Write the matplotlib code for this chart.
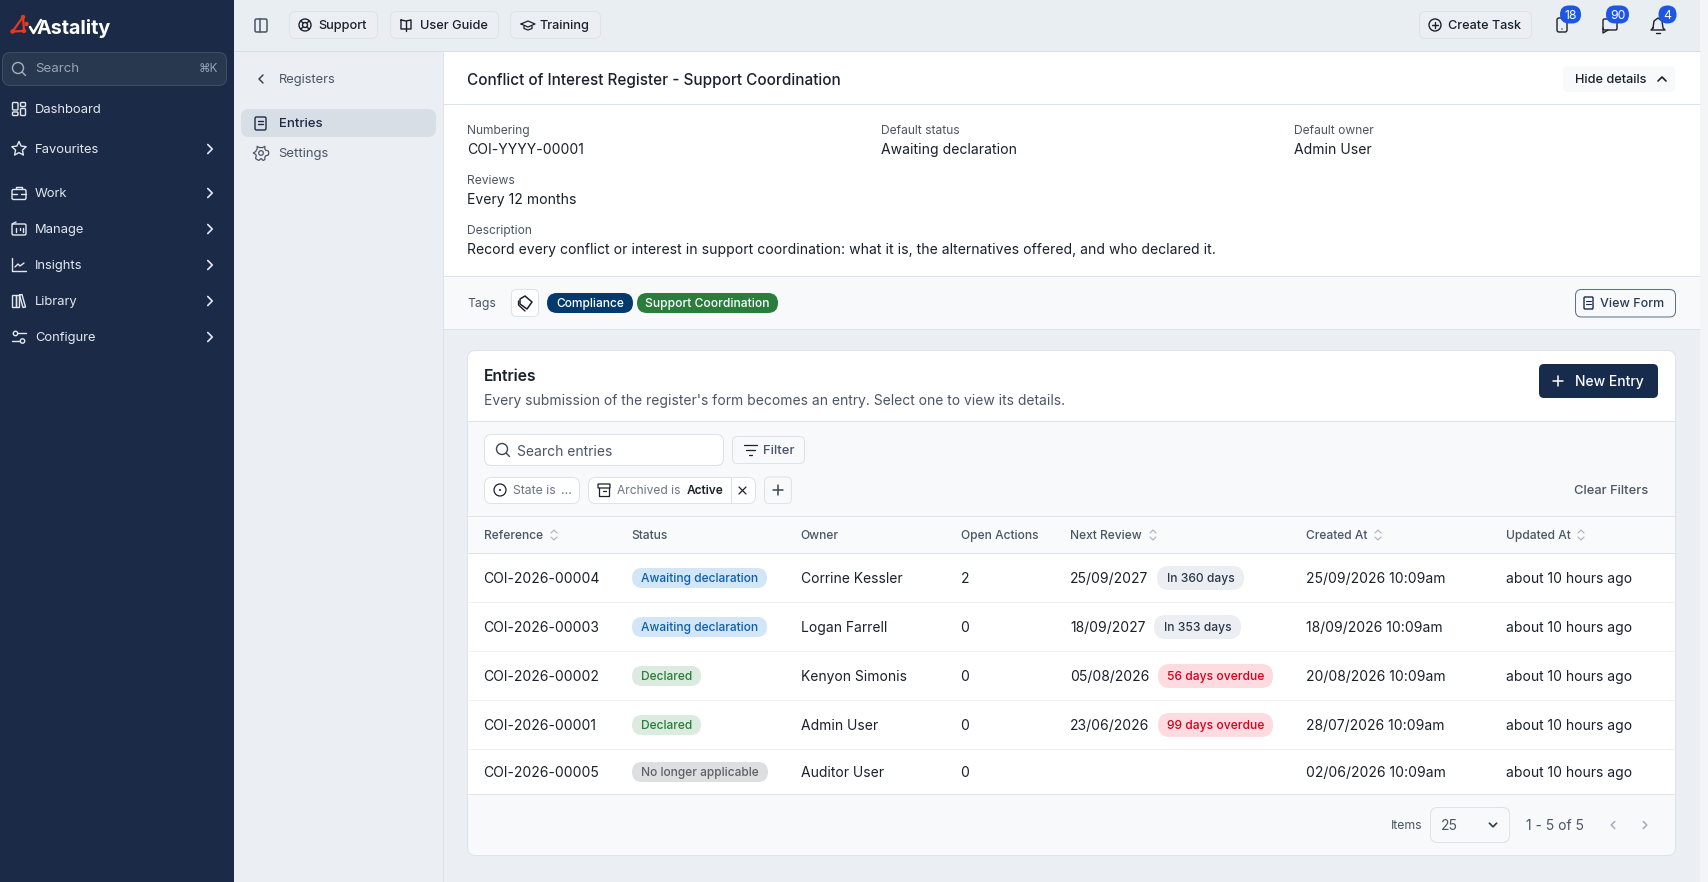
import numpy as np
import matplotlib
matplotlib.use("Agg")
import matplotlib.pyplot as plt
from matplotlib.patches import FancyBboxPatch, Circle, Rectangle, Polygon

plt.rcParams['font.family'] = ['Inter', 'DejaVu Sans']

# ---------- content ----------
NAV_ITEMS = ["Dashboard", "Favourites", "Work", "Manage", "Insights", "Library", "Configure"]
NAV_CHEVRON = [False, True, True, True, True, True, True]
TOP_BUTTONS = ["Support", "User Guide", "Training"]
NOTIFY_COUNTS = [18, 90, 4]
TAGS = ["Compliance", "Support Coordination"]
COLUMNS = ["Reference", "Status", "Owner", "Open Actions", "Next Review", "Created At", "Updated At"]
COLUMN_SORTABLE = [True, False, False, False, True, True, True]
REFERENCES = ["COI-2026-00004", "COI-2026-00003", "COI-2026-00002", "COI-2026-00001", "COI-2026-00005"]
STATUSES = ["Awaiting declaration", "Awaiting declaration", "Declared", "Declared", "No longer applicable"]
OWNERS = ["Corrine Kessler", "Logan Farrell", "Kenyon Simonis", "Admin User", "Auditor User"]
OPEN_ACTIONS = [2, 0, 0, 0, 0]
NEXT_REVIEW = ["25/09/2027", "18/09/2027", "05/08/2026", "23/06/2026", ""]
REVIEW_BADGES = ["In 360 days", "In 353 days", "56 days overdue", "99 days overdue", ""]
CREATED_AT = ["25/09/2026 10:09am", "18/09/2026 10:09am", "20/08/2026 10:09am",
              "28/07/2026 10:09am", "02/06/2026 10:09am"]
UPDATED_AT = ["about 10 hours ago"] * 5

# ---------- palette ----------
NAVY = "#1b2b47"; PAGE = "#ebeff4"; WHITE = "#ffffff"; SOFT = "#f7f9fb"
LINE = "#dde3ea"; INK = "#1a202c"; MUTED = "#4b5665"
STATUS_STYLE = {"Awaiting declaration": ("#d3e6f7", "#0f5fa8"),
                "Declared": ("#dcebdf", "#2a7d3a"),
                "No longer applicable": ("#dedfe1", "#5d6166")}
PX = 0.72  # one pixel of stroke, in points

# ---------- canvas in pixels ----------
W, H = 1708, 882
fig = plt.figure(figsize=((W + 0.01) / 100, (H + 0.01) / 100), dpi=100, facecolor=PAGE)
ax = fig.add_axes([0, 0, 1, 1])
ax.set_xlim(0, W); ax.set_ylim(H, 0); ax.axis("off")


def box(x0, y0, x1, y1, r=0, fc="none", ec="none", lw=PX, z=1):
    if r:
        p = FancyBboxPatch((x0, y0), x1 - x0, y1 - y0, boxstyle=f"round,pad=0,rounding_size={r}",
                           fc=fc, ec=ec, lw=lw, zorder=z)
    else:
        p = Rectangle((x0, y0), x1 - x0, y1 - y0, fc=fc, ec=ec, lw=lw, zorder=z)
    ax.add_patch(p)


def txt(x, y, s, size=10, color=INK, weight="normal", ha="left"):
    ax.text(x, y - 0.2, s, fontsize=size, color=color, fontweight=weight, ha=ha,
            va="center_baseline", zorder=5)


def line(xs, ys, color=INK, lw=1.0, z=4):
    ax.plot(xs, ys, color=color, lw=lw, zorder=z, solid_capstyle="round", solid_joinstyle="round")


def rule(xs, ys, color, z=2):
    ax.plot(xs, ys, color=color, lw=PX, zorder=z, solid_capstyle="butt")


def ring(x, y, r, color=INK, lw=1.0, fc="none"):
    ax.add_patch(Circle((x, y), r, fc=fc, ec=color, lw=lw, zorder=4))


def chev(x, y, d, s=4, color=INK, lw=1.1):
    if d == "r":
        line([x - s / 2, x + s / 2, x - s / 2], [y - s, y, y + s], color, lw)
    elif d == "l":
        line([x + s / 2, x - s / 2, x + s / 2], [y - s, y, y + s], color, lw)
    elif d == "d":
        line([x - s, x, x + s], [y - s / 2, y + s / 2, y - s / 2], color, lw)
    else:
        line([x - s, x, x + s], [y + s / 2, y - s / 2, y + s / 2], color, lw)


def search_icon(x, y, color, r=5.5):
    ring(x - 1, y - 1, r, color, 1.0)
    line([x + 3, x + 6.5], [y + 3, y + 6.5], color, 1.0)


def sort_icon(x, y):
    c = "#a9b2bd"
    line([x - 3, x, x + 3], [y - 2, y - 5, y - 2], c, 0.8)
    line([x - 3, x, x + 3], [y + 2, y + 5, y + 2], c, 0.8)


def gear_icon(x, y, c):
    a = np.deg2rad(np.arange(0, 360, 15))
    r = 6.6 + 1.1 * np.sign(np.cos(6 * a))
    ax.add_patch(Polygon(np.c_[x + r * np.cos(a), y + r * np.sin(a)], closed=True,
                         fc="none", ec=c, lw=0.9, zorder=4, joinstyle="round"))
    ring(x, y, 2.3, c, 0.9)


def nav_icon(i, x, y, c):
    lw = 1.0
    if i == 0:
        box(x - 6.5, y - 6.5, x - 1, y + 1, 1, ec=c, lw=lw, z=4)
        box(x + 1.5, y - 6.5, x + 6.5, y - 2.5, 1, ec=c, lw=lw, z=4)
        box(x - 6.5, y + 3, x - 1, y + 6.5, 1, ec=c, lw=lw, z=4)
        box(x + 1.5, y - 0.5, x + 6.5, y + 6.5, 1, ec=c, lw=lw, z=4)
    elif i == 1:
        a = np.deg2rad(np.arange(0, 360, 36) - 90)
        r = np.where(np.arange(10) % 2 == 0, 7.5, 3.6)
        ax.add_patch(Polygon(np.c_[x + r * np.cos(a), y + r * np.sin(a)], closed=True,
                             fc="none", ec=c, lw=lw, zorder=4, joinstyle="round"))
    elif i == 2:
        box(x - 7, y - 3.5, x + 7, y + 6.5, 1.5, ec=c, lw=lw, z=4)
        line([x - 3, x - 3, x + 3, x + 3], [y - 3.5, y - 6, y - 6, y - 3.5], c, lw)
        line([x - 7, x - 2], [y + 1, y + 1], c, lw)
        line([x + 2, x + 7], [y + 1, y + 1], c, lw)
    elif i == 3:
        box(x - 7, y - 5, x + 7, y + 6, 1.5, ec=c, lw=lw, z=4)
        line([x - 7, x - 3], [y - 5, y - 7], c, lw)
        line([x - 3, x - 3], [y - 1, y + 3], c, lw)
        line([x + 0.5, x + 0.5], [y - 1, y + 1], c, lw)
        line([x + 4, x + 4], [y - 1, y + 3], c, lw)
    elif i == 4:
        line([x - 7, x - 7, x + 7], [y - 7, y + 6.5, y + 6.5], c, lw)
        line([x - 4, x - 1, x + 1, x + 5], [y + 2, y - 1, y + 1, y - 2], c, lw)
    elif i == 5:
        box(x - 7, y - 6, x - 3.5, y + 6.5, 0, ec=c, lw=lw, z=4)
        box(x - 3.5, y - 6, x, y + 6.5, 0, ec=c, lw=lw, z=4)
        line([x + 0.5, x + 3, x + 6.5, x + 4, x + 0.5], [y - 6, y - 6.5, y + 6, y + 6.5, y - 6], c, lw)
    else:
        ring(x - 3.5, y - 3.5, 2.2, c, lw); ring(x + 3.5, y + 4, 2.2, c, lw)
        line([x - 1, x + 7], [y - 3.5, y - 3.5], c, lw)
        line([x - 7, x + 1], [y + 4, y + 4], c, lw)


# ---------- page regions ----------
HLINES = [51.5, 104.5, 276.5, 329.5]
box(0, -2, 234, H + 2, fc=NAVY)
box(234, -2, 1700, 52, fc="#e9eef3")
box(1700, -2, W + 2, H + 2, fc="#f4f5f7")
rule([234, 1700], [HLINES[0]] * 2, "#d8dfe7")
rule([442.5, 442.5], [52, H + 2], "#dde3ea")
box(443, 52, 1700, 277, fc=WHITE)
box(443, 277, 1700, 330, fc=SOFT)
for yy in HLINES[1:]:
    rule([443, 1700], [yy, yy], LINE)

# ---------- sidebar ----------
RED = "#e8391d"
line([12.5, 23, 24, 12.5], [31.5, 17, 31, 31.5], RED, 1.6)
for px, py in [(12.5, 31.5), (23, 17), (24, 31), (26.5, 24)]:
    ax.add_patch(Circle((px, py), 2.2, fc=RED, ec="none", zorder=5))
line([30, 33.5, 41], [27, 33, 20], WHITE, 1.8)
txt(37, 26.5, "Astality", 14.2, WHITE, "bold")

box(2.5, 52.5, 226.5, 85.5, 8, fc="#28384f", ec="#3e4e66")
search_icon(19, 69, "#a7b0bd")
txt(35, 68, "Search", 9.6, "#9aa4b2")
txt(218, 68, "⌘K", 8.4, "#9aa4b2", ha="right")

NAV_Y = [108, 148, 192, 228, 264, 300, 336]
for i, (name, has_chev) in enumerate(zip(NAV_ITEMS, NAV_CHEVRON)):
    y = NAV_Y[i]
    nav_icon(i, 19, y + 1, "#e4e8ee")
    txt(35, y + 1, name, 9.35, "#e4e8ee")
    if has_chev:
        chev(210, y + 1, "r", 4.5, "#e4e8ee", 1.2)

# ---------- top bar ----------
box(255, 19, 267, 32, 1.5, ec="#4a5665", lw=1.1, z=4)
line([259.5, 259.5], [19, 32], "#4a5665", 1.1)
TOP_X = [(289, 377, 318.5), (390, 498, 419.5), (510, 600, 539.5)]
for label, (x0, x1, tx) in zip(TOP_BUTTONS, TOP_X):
    box(x0 + .5, 11.5, x1 + .5, 38.5, 6, fc="#ebeff4", ec="#dde3ea")
    txt(tx, 25, label, 9.2, INK, "medium")
ring(305, 25, 6, INK, 1.0); ring(305, 25, 2.5, INK, 1.0)
for dx, dy in [(-1, -1), (1, -1), (-1, 1), (1, 1)]:
    line([305 + 1.8 * dx, 305 + 4.3 * dx], [25 + 1.8 * dy, 25 + 4.3 * dy], INK, 1.0)
line([401, 406, 411, 411, 407, 405, 401, 401], [20, 21, 20, 29, 29, 29, 29, 20], INK, 1.0)
line([406, 406], [21, 31], INK, 1.0)
line([521, 528, 535, 528, 521], [24, 21, 24, 27, 24], INK, 0.9)
line([524, 524, 528, 532, 532], [26, 28.5, 30, 28.5, 26], INK, 0.9)

box(1419.5, 11.5, 1531.5, 38.5, 6, fc="#ebeff4", ec="#dde3ea")
ring(1435, 25, 6, INK, 1.0)
line([1432, 1438], [25, 25], INK, 1.0); line([1435, 1435], [22, 28], INK, 1.0)
txt(1448, 25, "Create Task", 9.1, INK, "medium")

box(1557, 18, 1567, 32, 2, ec=INK, lw=1.0, z=4)
ax.add_patch(Circle((1562, 29), 0.7, fc=INK, zorder=4))
box(1603, 19, 1617, 30, 1.5, ec=INK, lw=1.0, z=4)
line([1603, 1603, 1608], [28, 33, 30], INK, 1.0)
line([1653, 1654, 1658, 1662, 1663, 1665, 1651, 1653], [28, 21, 18, 21, 28, 30, 30, 28], INK, 1.0)
line([1656, 1660], [33, 33], INK, 1.0)
BADGE_X = [(1570.5, 10.5), (1617.5, 11.5), (1667.5, 9)]
for n, (bx, br) in zip(NOTIFY_COUNTS, BADGE_X):
    box(bx - br, 5.5, bx + br, 23.5, 9, fc="#1d56e0", z=4)
    txt(bx, 14.5, str(n), 8.8, WHITE, ha="center")

# ---------- secondary panel ----------
chev(261, 79, "l", 4, "#3a4656", 1.1)
txt(279, 78.5, "Registers", 9.3, MUTED)
box(241, 109, 436, 137, 8, fc="#d8dee5")
box(255, 117, 266, 130, 1.5, ec=NAVY, lw=1.0, z=4)
line([258, 263], [121, 121], NAVY, 1.0); line([258, 263], [124, 124], NAVY, 1.0)
txt(279, 122.2, "Entries", 9.5, NAVY, "medium")
gear_icon(261, 153, MUTED)
txt(278.5, 153, "Settings", 9.4, MUTED)

# ---------- register header ----------
txt(467, 79, "Conflict of Interest Register - Support Coordination", 11.0, INK, "medium")
box(1563, 66, 1675, 92, 5, fc=SOFT)
txt(1575, 79, "Hide details", 9.2, INK, "medium")
chev(1662, 79, "u", 4, INK, 1.2)

DETAILS = [(467, 129, 149, "Numbering", "COI-YYYY-00001"),
           (880.5, 129, 149, "Default status", "Awaiting declaration"),
           (1293.5, 129, 149, "Default owner", "Admin User"),
           (467, 179, 199, "Reviews", "Every 12 months"),
           (467, 229, 249, "Description",
            "Record every conflict or interest in support coordination: what it is, "
            "the alternatives offered, and who declared it.")]
for x, ly, vy, label, value in DETAILS:
    txt(x, ly + 0.6, label, 8.7, MUTED)
    txt(x + 0.5 if vy < 170 else x, vy, value, 10.08, INK)

# ---------- tags ----------
txt(467, 303, "Tags", 8.8, MUTED)
box(511.5, 289.5, 538.5, 316.5, 5, fc=WHITE, ec=LINE)
ax.add_patch(Polygon([[520, 299], [525, 296], [532, 302], [527, 309], [520, 304]], closed=True,
                     fc="none", ec=INK, lw=1.1, zorder=4, joinstyle="round"))
line([518.5, 518.5, 525], [301, 305, 311], INK, 1.0)
box(547, 293, 633, 313, 10, fc="#023a6e", z=2)
box(637, 293, 778, 313, 10, fc="#2a7d3a", z=2)
txt(590, 303, TAGS[0], 8.6, WHITE, "medium", ha="center")
txt(707.5, 303, TAGS[1], 8.7, WHITE, "medium", ha="center")
box(1575.5, 289.5, 1675.5, 317, 6, fc=SOFT, ec="#5b6f88")
box(1584, 297, 1593, 309, 1, ec=NAVY, lw=1.0, z=4)
line([1586, 1591], [301, 301], NAVY, 0.8); line([1586, 1591], [304, 304], NAVY, 0.8)
txt(1599.5, 303, "View Form", 9.0, "#2a3b55", "medium")

# ---------- card ----------
CARD_LINES = [421.5, 516.5, 553.5, 794.5]
ROW_LINES = [602.5, 651.5, 700.5, 749.5]
box(467.5, 350.5, 1675.5, 855.5, 8, fc=SOFT, ec=LINE, z=1)
box(468, 358, 1675, 422, fc=WHITE, z=1.1)
box(468, 351, 1675, 366, 8, fc=WHITE, z=1.1)
box(468, 517, 1675, 554, fc="#f9fafc", z=1.1)
box(468, 554, 1675, 795, fc=WHITE, z=1.1)
for yy in CARD_LINES:
    rule([468, 1675], [yy, yy], LINE)
for yy in ROW_LINES:
    rule([468, 1675], [yy, yy], "#edf0f4")

txt(484, 375, "Entries", 11.3, INK, "semibold")
txt(483.7, 399.5, "Every submission of the register's form becomes an entry. Select one to view its details.", 10, MUTED)
box(1539, 364, 1658, 398, 5, fc="#172b4d", z=2)
line([1553, 1563], [381, 381], WHITE, 1.1); line([1558, 1558], [376, 386], WHITE, 1.1)
txt(1574.5, 381, "New Entry", 10, WHITE, "medium")

# filters
box(484.5, 434.5, 723.5, 465.5, 7, fc=WHITE, ec=LINE)
search_icon(503, 450, "#3a4656")
txt(517, 451, "Search entries", 10, MUTED)
box(732.5, 436.5, 804.5, 463.5, 5, fc=SOFT, ec=LINE)
line([744, 757], [445, 445], INK, 0.9); line([746, 755], [450, 450], INK, 0.9); line([749, 752], [455, 455], INK, 0.9)
txt(763, 449.5, "Filter", 9.4, MUTED, "medium")
box(484.5, 477.5, 579.5, 503.5, 7, fc=WHITE, ec=LINE)
ring(500, 490, 6, INK, 0.9)
ax.add_patch(Circle((500, 490), 1, fc=INK, zorder=4))
txt(513, 490, "State is", 8.8, "#6a7483")
txt(561, 490, "...", 8.8, "#6a7483")
box(588.5, 477.5, 755.5, 503.5, 7, fc=WHITE, ec=LINE)
box(598, 484, 610, 488, 0.5, ec=INK, lw=0.9, z=4)
line([599, 599, 609, 609], [488, 496, 496, 488], INK, 0.9)
line([603, 606], [491, 491], INK, 0.9)
txt(617, 490, "Archived is", 8.6, "#6a7483")
txt(687, 490, "Active", 8.6, INK, "semibold")
rule([730.5, 730.5], [477, 503], LINE)
line([739, 746], [487, 494], INK, 0.9); line([739, 746], [494, 487], INK, 0.9)
box(764.5, 477, 791.5, 503.5, 5, fc=SOFT, ec=LINE)
line([773, 783], [490, 490], "#3a4656", 1.1); line([778, 778], [485, 495], "#3a4656", 1.1)
txt(1648, 490, "Clear Filters", 9.3, MUTED, "medium", ha="right")

# table
COL_X = [483.5, 631.7, 800.7, 960.5, 1070, 1305.5, 1505.5]
SORT_X = [554, None, None, None, 1153, 1378, 1581]
for name, x, sortable, sx in zip(COLUMNS, COL_X, COLUMN_SORTABLE, SORT_X):
    txt(x, 535, name, 8.65, MUTED, "medium")
    if sortable:
        sort_icon(sx, 535)

ROW_Y = [578, 627, 676, 725, 772]
STATUS_X1 = {"Awaiting declaration": 767, "Declared": 701, "No longer applicable": 768}
BADGE_SPAN = [(1157, 1244), (1154, 1241), (1158, 1273), (1158, 1273)]
for i, y in enumerate(ROW_Y):
    txt(COL_X[0], y, REFERENCES[i], 10, INK)
    s = STATUSES[i]
    fc, tc = STATUS_STYLE[s]
    box(632, y - 10, STATUS_X1[s], y + 10, 10, fc=fc, z=2)
    txt(641, y, s, 8.62, tc, "medium")
    txt(COL_X[2], y, OWNERS[i], 10, INK)
    txt(COL_X[3], y, str(OPEN_ACTIONS[i]), 10, INK)
    if NEXT_REVIEW[i]:
        txt(COL_X[4], y, NEXT_REVIEW[i], 10, INK)
        x0, x1 = BADGE_SPAN[i]
        over = "overdue" in REVIEW_BADGES[i]
        box(x0, y - 12, x1, y + 12, 12, fc="#fddbe0" if over else "#ebeff3", z=2)
        txt((x0 + x1) / 2, y, REVIEW_BADGES[i], 8.7, "#d0021b" if over else "#2d3748", "medium", ha="center")
    txt(COL_X[5], y, CREATED_AT[i], 10, INK)
    txt(COL_X[6], y, UPDATED_AT[i], 10, INK)

# footer
txt(1391, 825, "Items", 8.8, MUTED)
box(1430.5, 807.5, 1509.5, 842.5, 7, fc=SOFT, ec=LINE)
txt(1441, 825, "25", 10, MUTED)
chev(1493, 825, "d", 3.6, "#2d3748", 1.2)
txt(1526, 825, "1 - 5 of 5", 10, MUTED)
chev(1613, 825, "l", 3.6, "#a5adb8", 1.1)
chev(1645, 825, "r", 3.6, "#a5adb8", 1.1)

fig.savefig("out.png", dpi=100, facecolor=fig.get_facecolor())
